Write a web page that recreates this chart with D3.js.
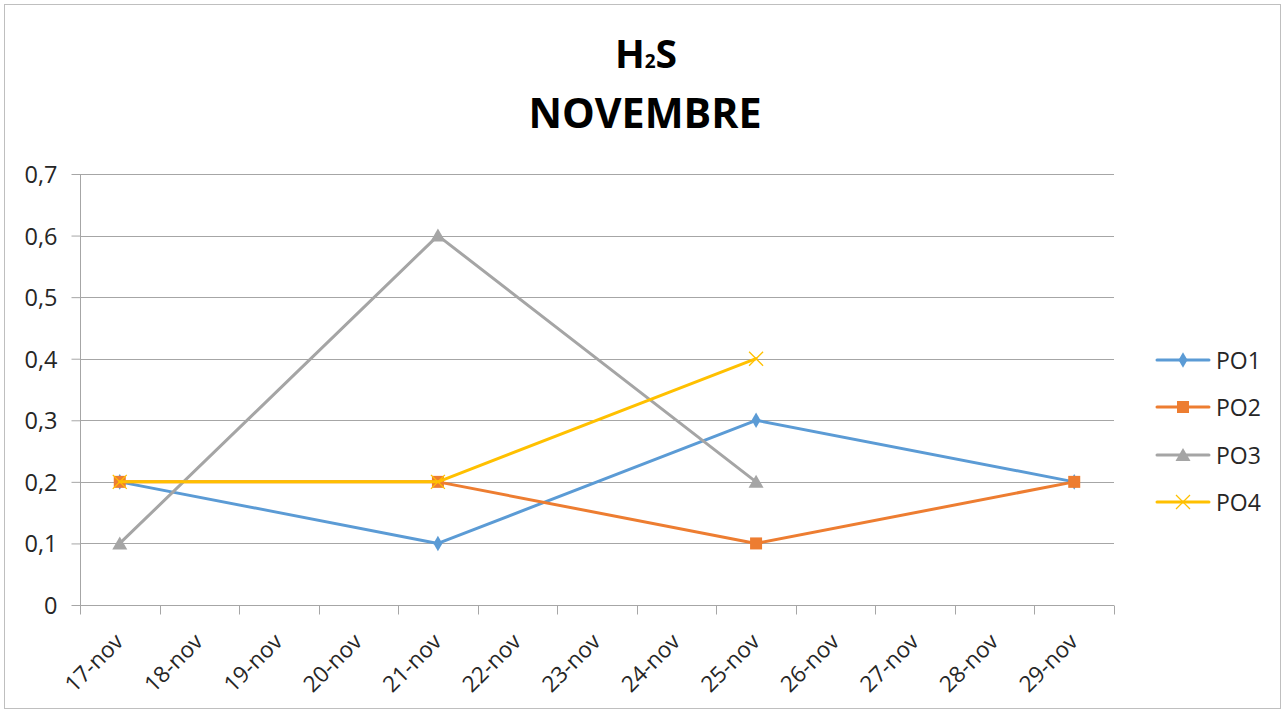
<!DOCTYPE html>
<html><head><meta charset="utf-8">
<script src="https://cdn.jsdelivr.net/npm/d3@7"></script>
<style>body{margin:0;background:#fff}svg{display:block}</style>
</head><body>
<svg id="c" width="1285" height="713"></svg>
<script>
const categories = ["17-nov","18-nov","19-nov","20-nov","21-nov","22-nov","23-nov","24-nov","25-nov","26-nov","27-nov","28-nov","29-nov"];
const seriesNames = ["PO1","PO2","PO3","PO4"];
const po1 = [0.2,null,null,null,0.1,null,null,null,0.3,null,null,null,0.2];
const po2 = [0.2,null,null,null,0.2,null,null,null,0.1,null,null,null,0.2];
const po3 = [0.1,null,null,null,0.6,null,null,null,0.2,null,null,null,null];
const po4 = [0.2,null,null,null,0.2,null,null,null,0.4,null,null,null,null];
const yTicks = [0,0.1,0.2,0.3,0.4,0.5,0.6,0.7];
const colors = ["#5B9BD5","#ED7D31","#A5A5A5","#FFC000"];
const markers = ["diamond","square","triangle","x"];
const values = [po1,po2,po3,po4];

const svg = d3.select("#c");
const font = "'Open Sans', 'DejaVu Sans', sans-serif";
svg.append("rect").attr("x",4.5).attr("y",4.5).attr("width",1276).attr("height",704)
  .attr("fill","#fff").attr("stroke","#BFBFBF").attr("stroke-width",1);

const x = d3.scaleBand().domain(categories).range([80,1114]).paddingInner(0).paddingOuter(0);
const y = d3.scaleLinear().domain([0,0.7]).range([605,174]);
const fmt = d => d3.format(".1f")(d).replace(".",",");

// gridlines
svg.append("g").selectAll("line").data(yTicks.filter(d=>d>0)).join("line")
  .attr("x1",80).attr("x2",1114).attr("y1",d=>Math.round(y(d))+0.5).attr("y2",d=>Math.round(y(d))+0.5)
  .attr("stroke","#A6A6A6").attr("stroke-width",1);

// y axis
const yAxis = svg.append("g").attr("transform","translate(80.5,0)")
  .call(d3.axisLeft(y).tickValues(yTicks).tickSize(9).tickFormat(d=> d===0?"0":fmt(d)));
yAxis.select(".domain").attr("stroke","#A6A6A6").attr("d","M0,174V605");
yAxis.selectAll(".tick line").attr("stroke","#A6A6A6");
yAxis.selectAll(".tick text").attr("font-family",font).attr("font-size",23.5).attr("fill","#262626").attr("x",-23).attr("dy","0.36em");

// x axis
const xAxis = svg.append("g").attr("transform","translate(0,605.5)")
  .call(d3.axisBottom(x).tickSize(0).tickFormat(""));
xAxis.select(".domain").attr("stroke","#A6A6A6").attr("d","M80,0H1114");
const tickPos = d3.range(categories.length+1).map(i=> 80 + i*x.step());
xAxis.append("g").selectAll("line").data(tickPos).join("line")
  .attr("x1",d=>Math.round(d)+0.5).attr("x2",d=>Math.round(d)+0.5).attr("y1",0).attr("y2",9)
  .attr("stroke","#A6A6A6");
svg.append("g").selectAll("text").data(categories).join("text")
  .attr("transform",d=>`translate(${x(d)+x.bandwidth()/2+5},${643}) rotate(-45)`)
  .attr("text-anchor","end").attr("font-family",font).attr("font-size",22.5).attr("fill","#262626")
  .text(d=>d);

// marker symbols
function drawMarker(g, type, color, cx, cy){
  if(type==="diamond"){
    g.append("path").attr("d",d3.symbol(d3.symbolDiamond,70)()).attr("transform",`translate(${cx},${cy})`).attr("fill",color);
  } else if(type==="square"){
    g.append("rect").attr("x",cx-6).attr("y",cy-6).attr("width",12).attr("height",12).attr("fill",color);
  } else if(type==="triangle"){
    g.append("path").attr("d",`M${cx},${cy-7}L${cx+7.5},${cy+6}L${cx-7.5},${cy+6}Z`).attr("fill",color);
  } else {
    g.append("path").attr("d",`M${cx-7},${cy-7}L${cx+7},${cy+7}M${cx+7},${cy-7}L${cx-7},${cy+7}`)
      .attr("stroke",color).attr("stroke-width",1.3).attr("fill","none");
  }
}

const line = d3.line().x(d=>x(d.c)+x.bandwidth()/2).y(d=>y(d.v));
values.forEach((vals,i)=>{
  const pts = categories.map((c,j)=>({c, v: vals[j]})).filter(d=>d.v!==null);
  const g = svg.append("g");
  g.append("path").datum(pts).attr("d",line).attr("fill","none").attr("stroke",colors[i])
    .attr("stroke-width",3).attr("stroke-linejoin","round").attr("stroke-linecap","round");
  pts.forEach(p=> drawMarker(g, markers[i], colors[i], x(p.c)+x.bandwidth()/2, y(p.v)));
});

// title
const t = svg.append("text").attr("x",646).attr("y",68).attr("text-anchor","middle")
  .attr("font-family",font).attr("font-weight","bold").attr("font-size",39).attr("fill","#000");
t.append("tspan").text("H");
t.append("tspan").attr("font-size",19).text("2");
t.append("tspan").text("S");
svg.append("text").attr("x",645).attr("y",128).attr("text-anchor","middle")
  .attr("font-family",font).attr("font-weight","bold").attr("font-size",42).attr("fill","#000")
  .attr("textLength",233).attr("lengthAdjust","spacingAndGlyphs").text("NOVEMBRE");

// legend
const legY = [360,407,455,502];
seriesNames.forEach((n,i)=>{
  const g = svg.append("g");
  g.append("line").attr("x1",1157).attr("x2",1209).attr("y1",legY[i]).attr("y2",legY[i])
    .attr("stroke",colors[i]).attr("stroke-width",3).attr("stroke-linecap","round");
  drawMarker(g, markers[i], colors[i], 1183, legY[i]);
  g.append("text").attr("x",1216).attr("y",legY[i]+8.5).attr("font-family",font).attr("font-size",23)
    .attr("fill","#262626").text(n);
});
</script>
</body></html>
